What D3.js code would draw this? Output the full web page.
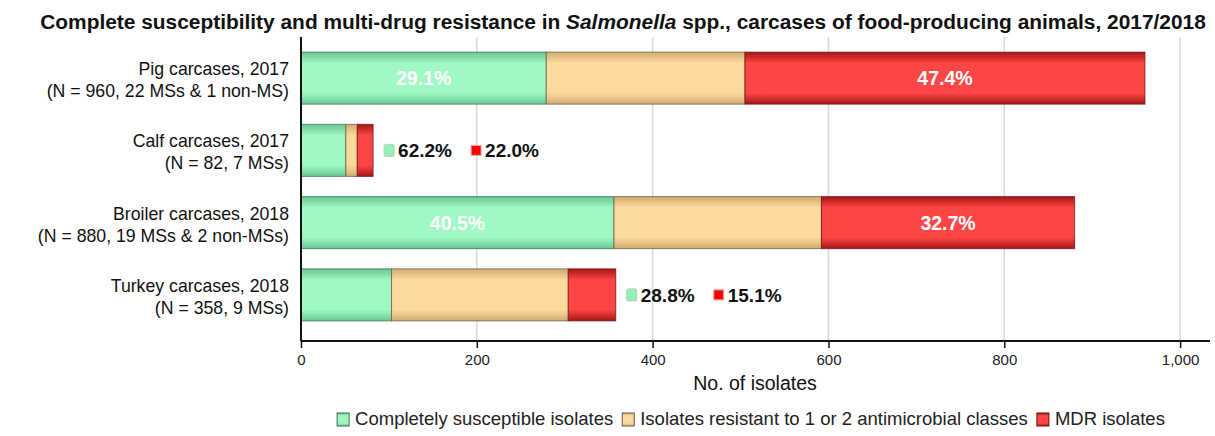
<!DOCTYPE html>
<html><head><meta charset="utf-8">
<script src="https://cdn.jsdelivr.net/npm/d3@7"></script>
<style>
body{margin:0;background:#fff;}
text{font-family:"Liberation Sans",Arial,sans-serif;}
</style></head>
<body><svg id="c" width="1215" height="436"></svg>
<script>
const categories = ["Pig carcases, 2017","Calf carcases, 2017","Broiler carcases, 2018","Turkey carcases, 2018"];
const subLabels = ["(N = 960, 22 MSs & 1 non-MS)","(N = 82, 7 MSs)","(N = 880, 19 MSs & 2 non-MSs)","(N = 358, 9 MSs)"];
const totals = [960, 82, 880, 358];
const susceptible = [279, 51, 356, 103];
const resistant12 = [226, 13, 236, 201];
const mdr = [455, 18, 288, 54];
const pctSusceptible = ["29.1%","62.2%","40.5%","28.8%"];
const pctMDR = ["47.4%","22.0%","32.7%","15.1%"];
const labelInside = [true, false, true, false];
const seriesNames = ["Completely susceptible isolates","Isolates resistant to 1 or 2 antimicrobial classes","MDR isolates"];
const xTicks = [0, 200, 400, 600, 800, 1000];

const svg = d3.select("#c");
const L = 301, R = 1210, T = 37, B = 341;
const x = d3.scaleLinear().domain([0, 1034]).range([L, R]);
const y = d3.scaleBand().domain(categories).range([42, 331]).paddingInner(0.28).paddingOuter(0.14);

const defs = svg.append("defs");
const grads = [
  {id:"gG", edge:"#68c993", mid:"#a0f8c4"},
  {id:"gT", edge:"#d3ad74", mid:"#fcd99d"},
  {id:"gR", edge:"#a81515", mid:"#ff4646"}
];
grads.forEach(g=>{
  const lg = defs.append("linearGradient").attr("id",g.id).attr("x1",0).attr("y1",0).attr("x2",0).attr("y2",1);
  lg.append("stop").attr("offset","0%").attr("stop-color",g.edge);
  lg.append("stop").attr("offset","22%").attr("stop-color",g.mid);
  lg.append("stop").attr("offset","78%").attr("stop-color",g.mid);
  lg.append("stop").attr("offset","100%").attr("stop-color",g.edge);
});
const strokeCols = ["#3d6e50","#6b5a3e","#6a1010"];

// title
const title = svg.append("text").attr("x", 623).attr("y", 29).attr("text-anchor","middle")
  .attr("font-size", 20.9).attr("font-weight","bold").attr("fill","#111");
title.append("tspan").text("Complete susceptibility and multi-drug resistance in ");
title.append("tspan").attr("font-style","italic").text("Salmonella");
title.append("tspan").text(" spp., carcases of food-producing animals, 2017/2018");

// gridlines
svg.append("g").selectAll("line").data(xTicks.filter(d=>d>0)).join("line")
  .attr("x1", d=>x(d)).attr("x2", d=>x(d)).attr("y1", T).attr("y2", B)
  .attr("stroke","#d9d9d9").attr("stroke-width",1.5);

// bars
const stacks = categories.map((c,i)=>{
  const vals = [susceptible[i], resistant12[i], mdr[i]];
  let acc = 0;
  return vals.map((v,k)=>{ const s = acc; acc += v; return {cat:c, i, k, x0:s, x1:acc}; });
}).flat();
svg.append("g").selectAll("rect").data(stacks).join("rect")
  .attr("x", d=>x(d.x0)).attr("width", d=>x(d.x1)-x(d.x0))
  .attr("y", d=>y(d.cat)).attr("height", y.bandwidth())
  .attr("fill", d=>`url(#${grads[d.k].id})`)
  .attr("stroke", d=>strokeCols[d.k]).attr("stroke-opacity",0.75).attr("stroke-width",1);

// value labels
categories.forEach((c,i)=>{
  const cy = y(c) + y.bandwidth()/2;
  if (labelInside[i]) {
    const s = stacks.filter(d=>d.i===i);
    [[s[0], pctSusceptible[i]],[s[2], pctMDR[i]]].forEach(([seg,t])=>{
      svg.append("text").attr("x",(x(seg.x0)+x(seg.x1))/2).attr("y",cy+7)
        .attr("text-anchor","middle").attr("font-size",19.5).attr("font-weight","bold")
        .attr("fill","#fff").text(t);
    });
  } else {
    const x0 = x(totals[i]) + 11;
    const g = svg.append("g");
    g.append("rect").attr("x",x0).attr("y",cy-6).attr("width",10).attr("height",12).attr("rx",1.5)
      .attr("fill","#8ff2b8").attr("stroke","#b9c9bf").attr("stroke-width",1);
    g.append("text").attr("x",x0+14).attr("y",cy+7).attr("font-size",19).attr("font-weight","bold")
      .attr("fill","#111").text(pctSusceptible[i]);
    g.append("rect").attr("x",x0+87).attr("y",cy-5).attr("width",10).attr("height",10)
      .attr("fill","#ff0000").attr("stroke","#d9b0b0").attr("stroke-width",1);
    g.append("text").attr("x",x0+101).attr("y",cy+7).attr("font-size",19).attr("font-weight","bold")
      .attr("fill","#111").text(pctMDR[i]);
  }
});

// y labels
categories.forEach((c,i)=>{
  const cy = y(c) + y.bandwidth()/2;
  const t = svg.append("text").attr("text-anchor","end").attr("font-size",17.7).attr("fill","#111");
  t.append("tspan").attr("x",289).attr("y",cy-3).text(c);
  t.append("tspan").attr("x",289).attr("y",cy+19).text(subLabels[i]);
});

// axes lines
svg.append("line").attr("x1",L).attr("x2",L).attr("y1",T).attr("y2",B).attr("stroke","#111").attr("stroke-width",2);
const xAxis = svg.append("g").attr("transform",`translate(0,${B})`)
  .call(d3.axisBottom(x).tickValues(xTicks).tickSize(7).tickFormat(d3.format(",")));
xAxis.select(".domain").attr("d",`M${L},0H${R}`).attr("stroke","#111").attr("stroke-width",2);
xAxis.selectAll(".tick line").attr("stroke","#111").attr("stroke-width",1.5);
xAxis.selectAll(".tick text").attr("font-size",15).attr("fill","#222").attr("dy","0.95em")
  .attr("font-family","Liberation Sans Narrow, Liberation Sans, Arial, sans-serif");

svg.append("text").attr("x",755).attr("y",390).attr("text-anchor","middle").attr("font-size",19.5)
  .attr("fill","#111").text("No. of isolates");

// legend
const lg = svg.append("g");
let lx = 0;
seriesNames.forEach((n,k)=>{
  const g = lg.append("g").attr("transform",`translate(${lx},0)`);
  g.append("rect").attr("x",0).attr("y",-12).attr("width",12).attr("height",13)
    .attr("fill",`url(#${grads[k].id})`).attr("stroke",strokeCols[k]).attr("stroke-width",1);
  const t = g.append("text").attr("x",18).attr("y",0).attr("font-size",18.5).attr("fill","#222").text(n);
  const w = t.node().getComputedTextLength();
  lx += 18 + w + 9;
});
const totalW = lx - 9;
lg.attr("transform",`translate(${751 - totalW/2},425)`);
</script></body></html>
